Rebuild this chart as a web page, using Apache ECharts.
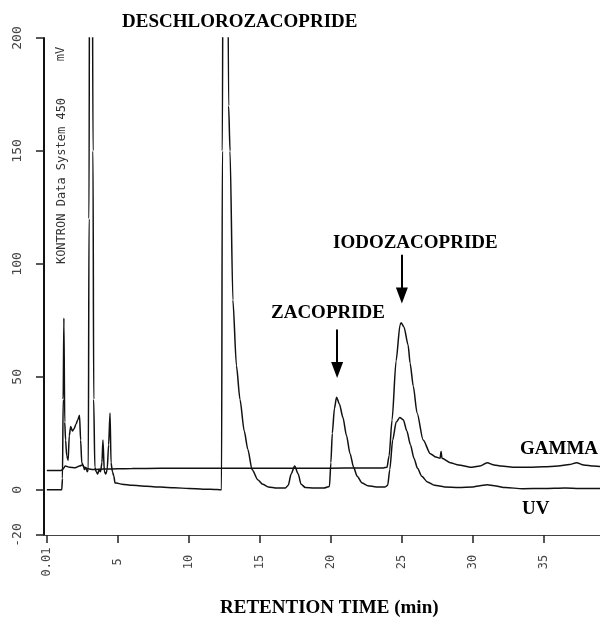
<!DOCTYPE html>
<html>
<head>
<meta charset="utf-8">
<script src="https://cdn.jsdelivr.net/npm/echarts@6/dist/echarts.min.js"></script>
<style>
html,body{margin:0;padding:0;background:#fff;}
#chart{width:600px;height:619px;}
</style>
</head>
<body>
<div id="chart"></div>
<script>
// ---- Data ----
var uvTime = [0, 1.05, 1.1, 1.15, 1.2, 1.26, 1.32, 1.4, 1.5, 1.58, 1.68, 1.8, 1.92, 2.05, 2.18, 2.3, 2.38, 2.46, 2.55, 2.65, 2.75, 2.85, 2.92, 2.97, 3.02, 3.1, 3.18, 3.25, 3.3, 3.38, 3.48, 3.58, 3.68, 3.78, 3.88, 3.95, 4.05, 4.15, 4.25, 4.35, 4.45, 4.52, 4.62, 4.72, 4.8, 4.9, 5.3, 6, 7, 8, 9, 10, 11, 12, 12.3, 12.36, 12.42, 12.55, 12.7, 12.8, 12.9, 13.1, 13.35, 13.6, 13.9, 14.15, 14.45, 14.85, 15.2, 15.6, 16.2, 16.8, 17.0, 17.2, 17.45, 17.7, 17.9, 18.2, 18.8, 19.5, 19.9, 20.0, 20.1, 20.25, 20.4, 20.6, 20.85, 21.1, 21.35, 21.6, 21.85, 22.2, 22.6, 23.2, 23.8, 24.0, 24.15, 24.35, 24.6, 24.85, 25.1, 25.35, 25.6, 25.85, 26.1, 26.4, 26.8, 27.3, 28, 29, 30, 30.5, 31, 31.5, 32.3, 33.5, 35, 36.5, 37.5, 39];
var uvValue = [0, 0, 5, 40, 76, 30, 22, 15, 13, 24, 28, 26, 27, 29, 31, 33, 22, 12, 11, 9, 10, 8, 9, 120, 300, 300, 300, 150, 40, 10, 8, 7, 9, 8, 12, 22, 8, 7, 9, 20, 34, 12, 8, 6, 3, 3, 2.5, 2, 1.6, 1.2, 0.9, 0.6, 0.3, 0.1, 0, 150, 300, 300, 300, 170, 150, 84, 55, 40, 26, 18, 9, 4.5, 2.5, 1.3, 0.8, 0.8, 2, 7, 10.5, 7, 2.5, 1, 0.8, 0.8, 1.5, 12, 25, 36, 41, 38, 32, 24, 16, 10, 6, 3, 1.8, 1.3, 1.2, 2, 9, 22, 30, 32, 31, 26, 20, 14, 9.5, 6, 3.5, 2, 1.3, 1, 1.3, 1.8, 2.2, 1.8, 1, 0.5, 0.6, 0.8, 0.6, 0.6];

var gammaTime = [0, 1.0, 1.1, 1.3, 1.6, 2.0, 2.3, 2.5, 2.7, 3.3, 4, 5, 6, 8, 10, 12, 14, 16, 18, 20, 22, 23, 23.7, 23.95, 24.1, 24.31, 24.59, 24.87, 24.95, 25.15, 25.44, 25.58, 25.8, 26.07, 26.5, 27.0, 27.4, 27.69, 27.76, 27.82, 28.4, 29.0, 29.8, 30.5, 31.0, 31.5, 32, 33, 34, 35, 36, 36.8, 37.3, 37.8, 38.5, 39];
var gammaValue = [8.5, 8.5, 9, 10.5, 10, 9.8, 10.5, 11, 9.5, 9, 9.2, 9.3, 9.4, 9.5, 9.5, 9.6, 9.6, 9.6, 9.6, 9.6, 9.7, 9.7, 9.7, 10, 15, 31, 57, 73, 74, 72, 64, 56, 46, 34, 22, 16, 14.5, 14, 17, 14, 12, 11, 10, 10.5, 12, 11, 10.5, 10, 10, 10.2, 10.5, 11.2, 12, 11, 10.5, 10.3];

var xTickValues = [0, 5, 10, 15, 20, 25, 30, 35];
var xTickLabels = ['0.01', '5', '10', '15', '20', '25', '30', '35'];
var yTickValues = [-20, 0, 50, 100, 150, 200];
var yTickLabels = ['-20', '0', '50', '100', '150', '200'];

// arrows (time, from value, to value)
var arrowZaco = [20.44, 71, 53];
var arrowIodo = [25.0, 104, 86];

function zip(t, v) { return t.map(function (x, i) { return [x, v[i]]; }); }

var chart = echarts.init(document.getElementById('chart'), null, {renderer: 'canvas'});
var serif = '"Liberation Serif", "Times New Roman", serif';
var mono = '"DejaVu Sans Mono", monospace';

chart.setOption({
  animation: false,
  backgroundColor: '#fff',
  grid: {left: 44, right: 0, top: 38, bottom: 84, containLabel: false},
  xAxis: {
    type: 'value', min: -0.2, max: 38.95,
    splitLine: {show: false},
    axisLine: {show: true, onZero: false, lineStyle: {color: '#444', width: 1}},
    axisTick: {show: true, length: 8, customValues: xTickValues, lineStyle: {color: '#222', width: 1.5}},
    axisLabel: {
      customValues: xTickValues, rotate: 90, align: 'center', verticalAlign: 'middle', margin: 27,
      fontFamily: mono, fontSize: 12, color: '#444',
      formatter: function (v) { var i = xTickValues.indexOf(v); return i >= 0 ? xTickLabels[i] : ''; }
    }
  },
  yAxis: {
    type: 'value', min: -20, max: 200,
    splitLine: {show: false},
    axisLine: {show: true, onZero: false, lineStyle: {color: '#111', width: 2}},
    axisTick: {show: true, length: 8, customValues: yTickValues, lineStyle: {color: '#222', width: 1.5}},
    axisLabel: {
      customValues: yTickValues, rotate: 90, align: 'center', verticalAlign: 'middle', margin: 26,
      fontFamily: mono, fontSize: 13, color: '#444',
      formatter: function (v) { var i = yTickValues.indexOf(v); return i >= 0 ? yTickLabels[i] : ''; }
    }
  },
  series: [
    {
      name: 'UV', type: 'line', data: zip(uvTime, uvValue), showSymbol: false, symbol: 'none',
      smooth: 0.25, smoothMonotone: 'x', clip: true,
      lineStyle: {color: '#111', width: 1.5}
    },
    {
      name: 'GAMMA', type: 'line', data: zip(gammaTime, gammaValue), showSymbol: false, symbol: 'none',
      smooth: 0.25, smoothMonotone: 'x', clip: true,
      lineStyle: {color: '#111', width: 1.5},
      markLine: {
        silent: true, symbol: ['none', 'triangle'], symbolSize: [12, 16],
        label: {show: false},
        lineStyle: {color: '#000', width: 2, type: 'solid'},
        data: [
          [{coord: [arrowZaco[0], arrowZaco[1]]}, {coord: [arrowZaco[0], arrowZaco[2]]}],
          [{coord: [arrowIodo[0], arrowIodo[1]]}, {coord: [arrowIodo[0], arrowIodo[2]]}]
        ]
      }
    }
  ],
  graphic: [
    {type: 'text', x: 122, y: 22, style: {text: 'DESCHLOROZACOPRIDE', font: 'bold 19px ' + serif, fill: '#000', textVerticalAlign: 'middle'}},
    {type: 'text', x: 333, y: 243, style: {text: 'IODOZACOPRIDE', font: 'bold 19px ' + serif, fill: '#000', textVerticalAlign: 'middle'}},
    {type: 'text', x: 271, y: 313, style: {text: 'ZACOPRIDE', font: 'bold 19px ' + serif, fill: '#000', textVerticalAlign: 'middle'}},
    {type: 'text', x: 520, y: 449, style: {text: 'GAMMA', font: 'bold 19px ' + serif, fill: '#000', textVerticalAlign: 'middle'}},
    {type: 'text', x: 522, y: 509, style: {text: 'UV', font: 'bold 19px ' + serif, fill: '#000', textVerticalAlign: 'middle'}},
    {type: 'text', x: 220, y: 608, style: {text: 'RETENTION TIME (min)', font: 'bold 19px ' + serif, fill: '#000', textVerticalAlign: 'middle'}},
    {type: 'text', x: 62, y: 181, rotation: Math.PI / 2, style: {text: 'KONTRON Data System 450', font: '12px ' + mono, fill: '#333', textAlign: 'center', textVerticalAlign: 'middle'}},
    {type: 'text', x: 61, y: 54, rotation: Math.PI / 2, style: {text: 'mV', font: '12px ' + mono, fill: '#333', textAlign: 'center', textVerticalAlign: 'middle'}}
  ]
});
</script>
</body>
</html>
